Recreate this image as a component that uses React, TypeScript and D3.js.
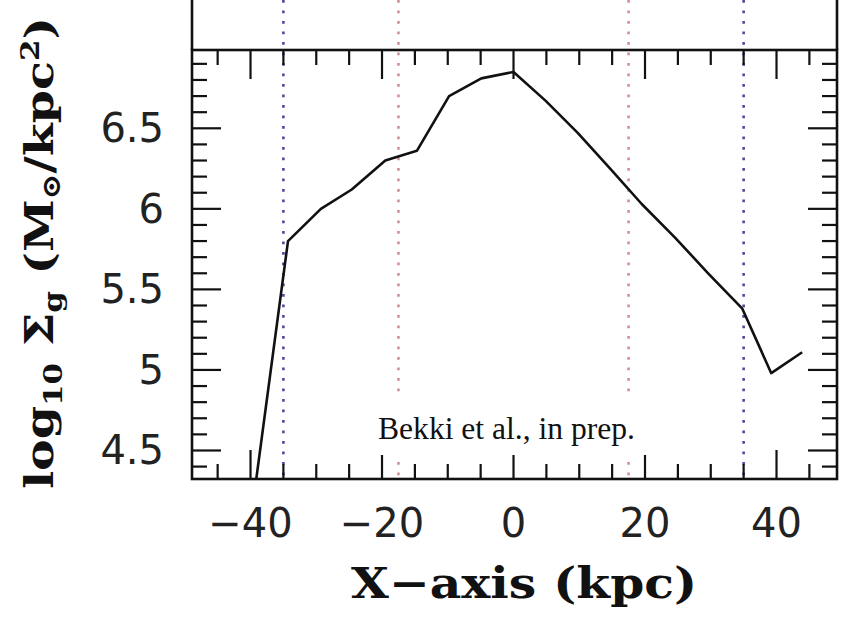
import React from "react";
import * as d3 from "d3";

// Data
const xKpc = [-39.2, -34.3, -29.3, -24.6, -19.5, -14.7, -9.8, -4.9, 0, 4.9, 9.8, 14.7, 19.5, 24.6, 29.6, 34.8, 39.2, 43.9];
const logSigma = [4.30, 5.80, 6.00, 6.12, 6.30, 6.36, 6.70, 6.81, 6.85, 6.67, 6.47, 6.25, 6.03, 5.82, 5.60, 5.38, 4.98, 5.11];
const xTickLabels = [-40, -20, 0, 20, 40];
const yTickLabels = [4.5, 5, 5.5, 6, 6.5];
const blueLines = [-35, 35];
const redLines = [-17.5, 17.5];
const annotation = "Bekki et al., in prep.";

const W = 849;
const H = 620;
const L = 192, R = 837, T = 50, B = 479;

export default function App() {
  const x = d3.scaleLinear().domain([-48.9, 49.2]).range([L, R]);
  const y = d3.scaleLinear().domain([4.323, 6.986]).range([B, T]);

  const line = d3
    .line<number>()
    .x((_, i) => x(xKpc[i]))
    .y((d) => y(d));

  const xMinor = d3.range(-45, 46, 5);
  const yMinor = d3.range(4.4, 6.96, 0.1).map((v) => Math.round(v * 10) / 10);
  const isMajorY = (v: number) => Math.abs(v * 2 - Math.round(v * 2)) < 1e-6;
  const isMajorX = (v: number) => v % 20 === 0;

  const majLen = 29;
  const minLen = 15;

  const fmtY = (v: number) => (Number.isInteger(v) ? String(v) : v.toFixed(1));
  const fmtX = (v: number) => (v < 0 ? "\u2212" + Math.abs(v) : String(v));

  return (
    <svg
      width={W}
      height={H}
      viewBox={`0 0 ${W} ${H}`}
      style={{ position: "absolute", left: 0, top: 0, background: "#fff" }}
    >
      <defs>
        <clipPath id="plotClip">
          <rect x={L} y={T} width={R - L} height={B - T} />
        </clipPath>
      </defs>
      <rect x={0} y={0} width={W} height={H} fill="#fff" />

      {/* dotted vertical lines */}
      {blueLines.map((v) => (
        <line
          key={"b" + v}
          x1={x(v)}
          x2={x(v)}
          y1={0}
          y2={B}
          stroke="#4a4a9e"
          strokeWidth={2.6}
          strokeDasharray="2.8 7.7"
        />
      ))}
      {redLines.map((v) => (
        <line
          key={"r" + v}
          x1={x(v)}
          x2={x(v)}
          y1={0}
          y2={B}
          stroke="#d88e8e"
          strokeWidth={2.6}
          strokeDasharray="2.8 7.7"
        />
      ))}

      {/* ticks x (bottom and top) */}
      {xMinor.map((v) => {
        const len = isMajorX(v) ? majLen : minLen;
        return (
          <g key={"xt" + v}>
            <line x1={x(v)} x2={x(v)} y1={B} y2={B - len} stroke="#111" strokeWidth={2.2} />
            <line x1={x(v)} x2={x(v)} y1={T} y2={T + len} stroke="#111" strokeWidth={2.2} />
          </g>
        );
      })}
      {/* ticks y (left and right) */}
      {yMinor.map((v) => {
        const len = isMajorY(v) ? majLen : minLen;
        return (
          <g key={"yt" + v}>
            <line x1={L} x2={L + len} y1={y(v)} y2={y(v)} stroke="#111" strokeWidth={2.2} />
            <line x1={R} x2={R - len} y1={y(v)} y2={y(v)} stroke="#111" strokeWidth={2.2} />
          </g>
        );
      })}

      {/* data line */}
      <path
        d={line(logSigma) || ""}
        fill="none"
        stroke="#111"
        strokeWidth={2.6}
        strokeLinejoin="round"
        clipPath="url(#plotClip)"
      />

      {/* annotation box */}
      <rect x={345} y={396} width={345} height={59} fill="#fff" />
      <text
        x={378}
        y={439}
        fontFamily="'Liberation Serif', serif"
        fontSize={31}
        textLength={257}
        lengthAdjust="spacingAndGlyphs"
        fill="#111"
      >
        {annotation}
      </text>

      {/* frame */}
      <rect x={L} y={T} width={R - L} height={B - T} fill="none" stroke="#111" strokeWidth={2.6} />
      <line x1={L} x2={L} y1={0} y2={T} stroke="#111" strokeWidth={2.6} />
      <line x1={R} x2={R} y1={0} y2={T} stroke="#111" strokeWidth={2.6} />

      {/* tick labels */}
      {xTickLabels.map((v) => (
        <text
          key={"xl" + v}
          x={x(v)}
          y={537}
          textAnchor="middle"
          fontFamily="'DejaVu Sans', sans-serif"
          fontSize={40}
          fill="#222"
        >
          {fmtX(v)}
        </text>
      ))}
      {yTickLabels.map((v) => (
        <text
          key={"yl" + v}
          x={164}
          y={y(v) + 14}
          textAnchor="end"
          fontFamily="'DejaVu Sans', sans-serif"
          fontSize={40}
          fill="#222"
        >
          {fmtY(v)}
        </text>
      ))}

      {/* axis titles */}
      <text
        x={524}
        y={598}
        textAnchor="middle"
        fontFamily="'DejaVu Serif', serif"
        fontWeight="bold"
        fontSize={42}
        textLength={346}
        lengthAdjust="spacingAndGlyphs"
        fill="#111"
      >
        X{"\u2212"}axis (kpc)
      </text>
      <text
        transform="translate(53, 253) rotate(-90)"
        textAnchor="middle"
        fontFamily="'DejaVu Serif', serif"
        fontWeight="bold"
        fontSize={40}
        textLength={472}
        lengthAdjust="spacingAndGlyphs"
        fill="#111"
      >
        log
        <tspan fontSize={26} dy={9}>10</tspan>
        <tspan dy={-9}> {"\u03A3"}</tspan>
        <tspan fontSize={26} dy={9}>g</tspan>
        <tspan dy={-9}> (M</tspan>
        <tspan fontSize={26} dy={7}>{"\u2299"}</tspan>
        <tspan dy={-7}>/kpc</tspan>
        <tspan fontSize={26} dy={-14}>2</tspan>
        <tspan dy={14}>)</tspan>
      </text>
    </svg>
  );
}
